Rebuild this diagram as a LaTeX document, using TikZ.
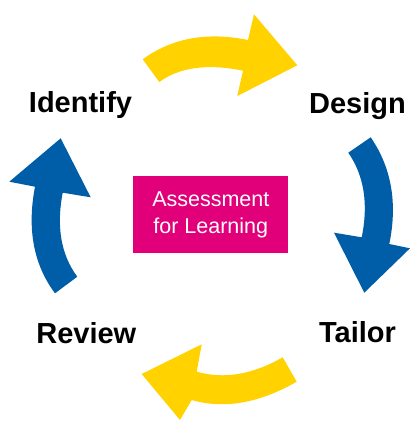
\documentclass[tikz,border=0pt]{standalone}
\usepackage{fontspec}
\setmainfont{Liberation Sans}
\usetikzlibrary{calc}
\definecolor{ayellow}{HTML}{FFD200}
\definecolor{ablue}{HTML}{005EA8}
\definecolor{amagenta}{HTML}{E2007A}
\tikzset{
  stage/.style={font=\bfseries\fontsize{29}{32}\selectfont, text=black, inner sep=0pt, anchor=base},
  centrebox/.style={fill=amagenta, text=white, minimum width=155pt, minimum height=77pt, inner sep=0pt, align=center, font=\fontsize{21.5}{26.7}\selectfont},
  yarrow/.style={fill=ayellow, draw=none},
  barrow/.style={fill=ablue, draw=none}
}
% quadratic bezier helper: from #1 via control #2 to #3
\newcommand{\qcurve}[3]{.. controls ($(#1)!0.6667!(#2)$) and ($(#3)!0.6667!(#2)$) .. (#3)}
\begin{document}
\begin{tikzpicture}[x=1pt,y=-1pt]
\useasboundingbox (0,0) rectangle (410,421);
% ---------- top arrow (yellow) ----------
\coordinate (t1) at (142.7,59.3);
\coordinate (tc1) at (186.3,27.4);
\coordinate (t2) at (248,40);
\coordinate (th1) at (254,14.3);
\coordinate (tt) at (297.3,65.3);
\coordinate (th2) at (237.3,96);
\coordinate (t3) at (243,70.7);
\coordinate (tc2) at (189.7,59.8);
\coordinate (t4) at (159.3,82);
\fill[yarrow] (t1) \qcurve{t1}{tc1}{t2} -- (th1) -- (tt) -- (th2) -- (t3) \qcurve{t3}{tc2}{t4} -- cycle;
% ---------- right arrow (blue) ----------
\coordinate (r1) at (370.7,137.3);
\coordinate (rc1) at (401.9,182.7);
\coordinate (r2) at (389.3,244);
\coordinate (rh1) at (410,248.3);
\coordinate (rt) at (364.3,292.7);
\coordinate (rh2) at (334,232.7);
\coordinate (r3) at (361.7,237.3);
\coordinate (rc2) at (372,187.1);
\coordinate (r4) at (348.3,152.7);
\fill[barrow] (r1) \qcurve{r1}{rc1}{r2} -- (rh1) -- (rt) -- (rh2) -- (r3) \qcurve{r3}{rc2}{r4} -- cycle;
% ---------- bottom arrow (yellow) ----------
\coordinate (b1) at (282.7,357.3);
\coordinate (bc1) at (237.3,383.3);
\coordinate (b2) at (196.7,371.7);
\coordinate (bh1) at (201.7,344.3);
\coordinate (bt) at (141.7,374);
\coordinate (bh2) at (180,420);
\coordinate (b3) at (191.7,400);
\coordinate (bc2) at (240.5,414);
\coordinate (b4) at (296.7,381.7);
\fill[yarrow] (b1) \qcurve{b1}{bc1}{b2} -- (bh1) -- (bt) -- (bh2) -- (b3) \qcurve{b3}{bc2}{b4} -- cycle;
% ---------- left arrow (blue) ----------
\coordinate (l1) at (55,293.3);
\coordinate (lc1) at (22.8,250.1);
\coordinate (l2) at (35,186.7);
\coordinate (lh1) at (9.3,181.7);
\coordinate (lt) at (60.7,138.3);
\coordinate (lh2) at (90.7,197.3);
\coordinate (l3) at (62.7,192.7);
\coordinate (lc2) at (52.9,243.9);
\coordinate (l4) at (77.3,276.7);
\fill[barrow] (l1) \qcurve{l1}{lc1}{l2} -- (lh1) -- (lt) -- (lh2) -- (l3) \qcurve{l3}{lc2}{l4} -- cycle;
% ---------- labels ----------
\node[stage] (identify) at (80.5,112) {Identify};
\node[stage] (design) at (357.5,113.3) {Design};
\node[stage] (review) at (86.3,343.3) {Review};
\node[stage] (tailor) at (357.5,342.3) {Tailor};
\node[centrebox] (afl) at (210.8,214.5) {Assessment\\for Learning};
\end{tikzpicture}
\end{document}
